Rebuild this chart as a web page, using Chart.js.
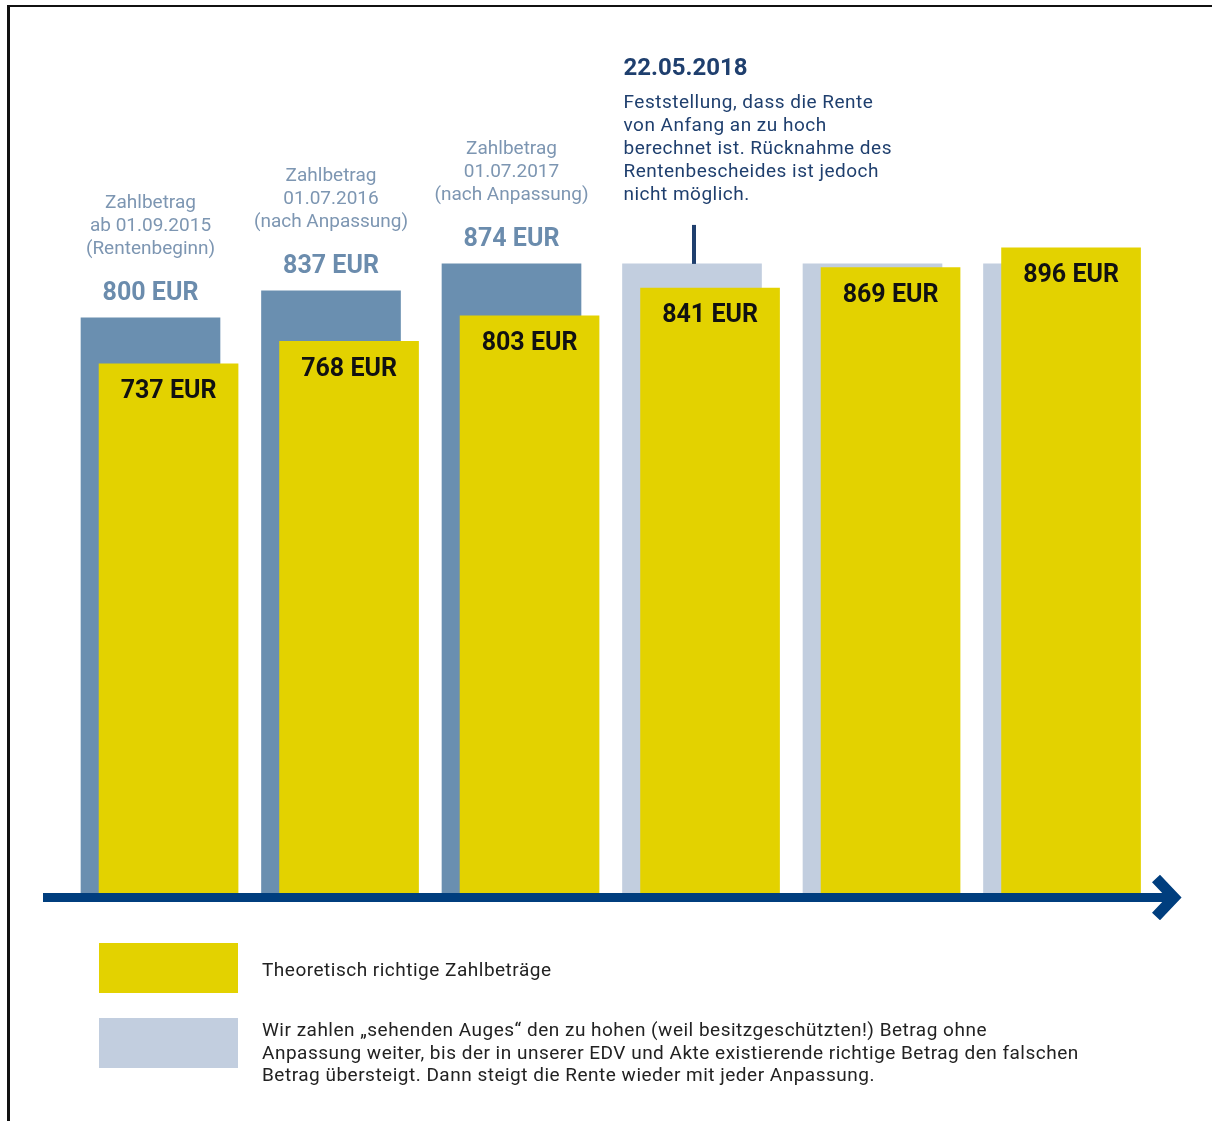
<!DOCTYPE html>
<html lang="de">
<head>
<meta charset="utf-8">
<title>Zahlbeträge Rente</title>
<script src="https://cdn.jsdelivr.net/npm/chart.js@4/dist/chart.umd.min.js"></script>
<style>
  html, body { margin: 0; padding: 0; background: #fff; }
  body { width: 1212px; height: 1121px; position: relative; overflow: hidden; font-family: Roboto, "Noto Sans", sans-serif; }
  #chart { position: absolute; left: 0; top: 0; }
  .frame { position: absolute; left: 7px; top: 5px; right: -5px; bottom: -5px; border-left: 3px solid #111; border-top: 2px solid #111; pointer-events: none; }
  .swatch { position: absolute; left: 99px; width: 139px; height: 50px; }
  .legend-text { position: absolute; left: 262px; font-size: 19px; letter-spacing: 0.5px; line-height: 22.5px; color: #222; white-space: nowrap; }
</style>
</head>
<body>
<canvas id="chart" width="1212" height="920"></canvas>
<div class="frame"></div>

<div class="swatch" style="top:943px;background:#e3d200"></div>
<div class="legend-text" style="top:959px">Theoretisch richtige Zahlbeträge</div>
<div class="swatch" style="top:1018px;background:#c2cedf"></div>
<div class="legend-text" style="top:1019px">Wir zahlen „sehenden Auges“ den zu hohen (weil besitzgeschützten!) Betrag ohne<br>Anpassung weiter, bis der in unserer EDV und Akte existierende richtige Betrag den falschen<br>Betrag übersteigt. Dann steigt die Rente wieder mit jeder Anpassung.</div>

<script>
// Werte aus der Grafik
const paidAmounts = [800, 837, 874, 874, 874, 874];
const correctAmounts = [737, 768, 803, 841, 869, 896];
const paidCaptions = [
  ["Zahlbetrag", "ab 01.09.2015", "(Rentenbeginn)"],
  ["Zahlbetrag", "01.07.2016", "(nach Anpassung)"],
  ["Zahlbetrag", "01.07.2017", "(nach Anpassung)"],
];
const noticeDate = "22.05.2018";
const noticeLines = [
  "Feststellung, dass die Rente",
  "von Anfang an zu hoch",
  "berechnet ist. Rücknahme des",
  "Rentenbescheides ist jedoch",
  "nicht möglich.",
];
const noticeIndex = 3;

const YELLOW = "#e3d200";
const STEEL = "#6a8fb0";
const PALE = "#c2cedf";
const NAVY = "#003e7e";
const FONT = "Roboto, 'Noto Sans', sans-serif";

const frontShift = 0.1;
const paidColors = paidAmounts.map((v, i) => (i < noticeIndex ? STEEL : PALE));

const labelsPlugin = {
  id: "labels",
  afterDatasetsDraw(chart) {
    const ctx = chart.ctx;
    const front = chart.getDatasetMeta(0).data;
    const back = chart.getDatasetMeta(1).data;
    ctx.save();
    ctx.textAlign = "center";
    ctx.textBaseline = "middle";

    // Beschriftung der gezahlten Beträge
    paidCaptions.forEach((lines, i) => {
      const bar = back[i];
      ctx.fillStyle = "#6b8cad";
      ctx.font = "bold 25px " + FONT;
      ctx.fillText(paidAmounts[i] + " EUR", bar.x, bar.y - 24);
      ctx.fillStyle = "#7d96b2";
      ctx.font = "19px " + FONT;
      lines.forEach((line, j) => {
        ctx.fillText(line, bar.x, bar.y - 69 - (lines.length - 1 - j) * 23);
      });
    });

    // richtige Beträge
    ctx.fillStyle = "#111";
    ctx.font = "bold 25px " + FONT;
    front.forEach((bar, i) => {
      ctx.fillText(correctAmounts[i] + " EUR", bar.x, bar.y + 28);
    });

    // Hinweis 22.05.2018
    const nb = back[noticeIndex];
    const left = nb.x - nb.width / 2 + 1;
    ctx.strokeStyle = "#1f3f6e";
    ctx.lineWidth = 4;
    ctx.beginPath();
    ctx.moveTo(nb.x + 2, nb.y);
    ctx.lineTo(nb.x + 2, nb.y - 39);
    ctx.stroke();
    ctx.textAlign = "left";
    ctx.fillStyle = "#1f3f6e";
    ctx.font = "bold 24px " + FONT;
    ctx.fillText(noticeDate, left, nb.y - 195);
    ctx.font = "19px " + FONT;
    ctx.letterSpacing = "0.5px";
    noticeLines.forEach((line, j) => {
      ctx.fillText(line, left, nb.y - 161 + j * 23);
    });
    ctx.letterSpacing = "0px";

    // Zeitachse mit Pfeil
    const y = chart.chartArea.bottom + 4.5;
    ctx.strokeStyle = NAVY;
    ctx.lineWidth = 9;
    ctx.beginPath();
    ctx.moveTo(43, y);
    ctx.lineTo(1172, y);
    ctx.stroke();
    ctx.lineWidth = 11;
    ctx.lineJoin = "miter";
    ctx.beginPath();
    ctx.moveTo(1156, y - 19);
    ctx.lineTo(1174, y);
    ctx.lineTo(1156, y + 19);
    ctx.stroke();
    ctx.restore();
  },
};

new Chart(document.getElementById("chart"), {
  type: "bar",
  data: {
    datasets: [
      {
        label: "Theoretisch richtige Zahlbeträge",
        data: correctAmounts.map((v, i) => ({ x: i + frontShift, y: v })),
        backgroundColor: YELLOW,
        barThickness: 139,
        grouped: false,
      },
      {
        label: "Gezahlter Betrag",
        data: paidAmounts.map((v, i) => ({ x: i, y: v })),
        backgroundColor: paidColors,
        barThickness: 139,
        grouped: false,
      },
    ],
  },
  options: {
    responsive: false,
    animation: false,
    layout: { padding: { top: 26, bottom: 27, left: 0, right: 0 } },
    plugins: { legend: { display: false }, tooltip: { enabled: false } },
    scales: {
      x: {
        type: "linear",
        offset: false,
        min: -150.5 / 180.5,
        max: (1212 - 150.5) / 180.5,
        display: false,
      },
      y: { min: 12, max: 1200, display: false },
    },
  },
  plugins: [labelsPlugin],
});
</script>
</body>
</html>
